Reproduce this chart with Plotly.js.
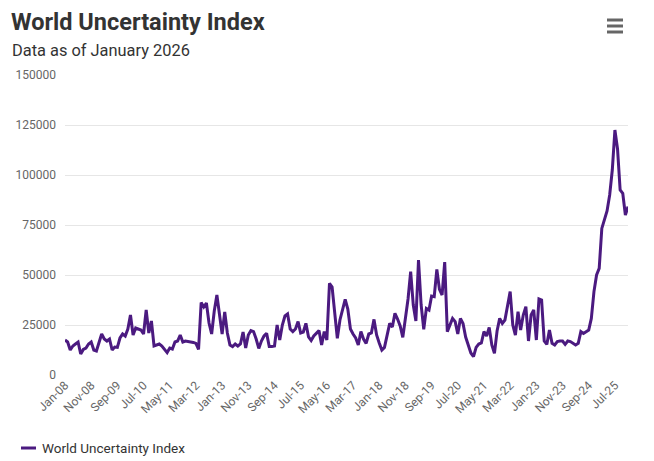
<!DOCTYPE html>
<html>
<head>
<meta charset="utf-8">
<script src="https://cdn.plot.ly/plotly-3.0.1.min.js"></script>
<style>
html,body{margin:0;padding:0;background:#fff;}
#chart{width:654px;height:461px;}
</style>
</head>
<body>
<div id="chart"></div>
<script>
// Monthly categories Jan-08 .. Dec-25
const monthNames = ["Jan","Feb","Mar","Apr","May","Jun","Jul","Aug","Sep","Oct","Nov","Dec"];
const startYear = 2008;
const endYear = 2025;

const wuiValues = [
  // 2008
  17500,16500,12500,14500,15500,16500,10500,12800,13500,15500,16500,12500,
  // 2009
  12000,16000,20500,18000,17000,18000,12500,14000,13800,18500,20500,19500,
  // 2010
  23000,30000,20000,23500,23000,22500,20500,32500,21000,27000,14500,15000,
  // 2011
  15500,14500,13000,11200,13500,13000,16500,17000,20000,16500,17000,16800,
  // 2012
  16500,16300,15800,12800,36200,34000,36000,26000,20500,32000,40000,31000,
  // 2013
  20500,31500,21000,15000,14200,15500,14500,15500,21500,13500,20000,22200,
  // 2014
  21700,18000,13300,17000,19500,20800,14200,14200,14500,25000,17500,25000,
  // 2015
  29500,30500,23000,21700,23000,26700,21000,21500,25800,19000,17200,19500,
  // 2016
  21000,22200,15000,21700,17500,45800,44000,29000,18300,27500,32000,37800,
  // 2017
  33000,23000,20500,18500,15000,21700,18000,15800,20500,21000,27800,20000,
  // 2018
  16000,12500,13800,20000,25800,24000,30800,28000,24500,18800,27500,38000,
  // 2019
  51700,35000,27000,57500,35000,22800,33300,32500,39500,39200,52800,42800,
  // 2020
  40000,56500,21700,25000,28300,26700,20500,28300,25800,19000,15000,11000,
  // 2021
  9200,13800,15500,16000,21700,19500,23800,15000,10800,22000,28300,25800,
  // 2022
  27500,35000,41700,25000,20000,31700,22500,30000,34200,17000,30000,32500,
  // 2023
  17500,38000,37500,17000,15300,22500,15800,15000,16700,17000,17000,15300,
  // 2024
  17000,16700,16000,15000,15800,21700,20800,21500,22500,28300,41700,50000,
  // 2025
  53300,73300,77500,82000,90000,102500,122500,113000,92500,90800,80000,84200
];

const categories = [];
for (let y = startYear; y <= endYear; y++) {
  for (let m = 0; m < 12; m++) {
    categories.push(monthNames[m] + "-" + String(y).slice(2));
  }
}
const tickLabels = categories.filter((c, i) => i % 10 === 0);
const yTicks = [0, 25000, 50000, 75000, 100000, 125000, 150000];

const seriesName = "World Uncertainty Index";
const titleText = "World Uncertainty Index";
const subtitleText = "Data as of January 2026";

const lineColor = "#4b1a80";
const fontFam = "Roboto, 'Liberation Sans', Arial, sans-serif";

// plot area in pixels
const PL = 65, PR = 628, PT = 75, PB = 375;
const PW = PR - PL, PH = PB - PT;
const px = (x) => (x - PL) / PW;
const py = (y) => (PB - y) / PH;

const trace = {
  type: "scatter",
  mode: "lines",
  x: categories,
  y: wuiValues,
  name: seriesName,
  line: {color: lineColor, width: 3},
  hoverinfo: "x+y",
  showlegend: false
};

const menuBar = (y) => ({type: "line", xref: "paper", yref: "paper",
  x0: px(607), x1: px(623), y0: py(y), y1: py(y),
  line: {color: "#666666", width: 3}});

const layout = {
  width: 654,
  height: 461,
  margin: {l: PL, r: 654 - PR, t: PT, b: 461 - PB, autoexpand: false},
  paper_bgcolor: "#ffffff",
  plot_bgcolor: "#ffffff",
  font: {family: fontFam, color: "#666666", size: 12},
  title: {
    text: "<b>" + titleText + "</b>",
    font: {family: fontFam, size: 23.5, color: "#333333"},
    x: 11/654, xanchor: "left", xref: "container",
    y: 1 - 22/461, yanchor: "middle", yref: "container"
  },
  annotations: [
    {
      text: subtitleText,
      xref: "paper", yref: "paper",
      x: px(10), xanchor: "left",
      y: py(51), yanchor: "middle",
      showarrow: false,
      font: {family: fontFam, size: 16.4, color: "#333333"}
    },
    {
      text: seriesName,
      xref: "paper", yref: "paper",
      x: px(40), xanchor: "left",
      y: py(448), yanchor: "middle",
      showarrow: false,
      font: {family: fontFam, size: 13.5, color: "#333333"}
    }
  ],
  shapes: [
    menuBar(20), menuBar(26), menuBar(32),
    {type: "line", xref: "paper", yref: "paper",
      x0: px(21), x1: px(36), y0: py(448), y1: py(448),
      line: {color: lineColor, width: 3}}
  ],
  xaxis: {
    type: "category",
    range: [0, categories.length - 1],
    tickmode: "array",
    tickvals: tickLabels,
    ticktext: tickLabels,
    tickangle: -45,
    showgrid: false,
    showline: false,
    zeroline: false,
    ticks: "",
    automargin: false,
    tickfont: {family: fontFam, size: 12, color: "#666666"},
    fixedrange: true
  },
  yaxis: {
    range: [0, 150000],
    tickmode: "array",
    tickvals: yTicks,
    ticktext: yTicks.map(String),
    showgrid: true,
    gridcolor: "#e6e6e6",
    gridwidth: 1,
    zeroline: false,
    showline: false,
    ticks: "",
    automargin: false,
    ticklabelstandoff: 8,
    tickfont: {family: fontFam, size: 12, color: "#666666"},
    fixedrange: true
  },
  showlegend: false
};

Plotly.newPlot("chart", [trace], layout, {displayModeBar: false, responsive: false});
</script>
</body>
</html>
